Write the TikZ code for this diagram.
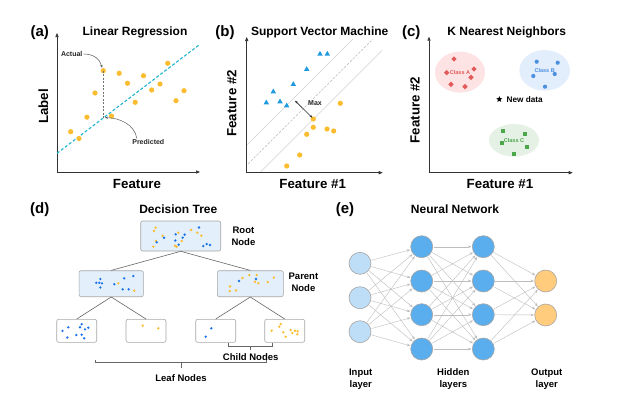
\documentclass[tikz,border=0pt]{standalone}
\usepackage{fontspec}
\setmainfont{Liberation Sans}
\usepackage{tikz}
\usetikzlibrary{arrows.meta,positioning,shapes.geometric,calc}
\usepackage{xcolor}
\definecolor{dotyellow}{HTML}{FBBD2F}
\definecolor{dotblue}{HTML}{1A73E8}
\definecolor{triblue}{HTML}{1E9AE0}
\definecolor{fitcyan}{HTML}{1CB5D0}
\definecolor{classred}{HTML}{E35A5A}
\definecolor{classblue}{HTML}{4A8FE0}
\definecolor{classgreen}{HTML}{4CA64C}
\definecolor{redfill}{HTML}{FDE3E3}
\definecolor{bluefill}{HTML}{E2EEFB}
\definecolor{greenfill}{HTML}{E5F1E4}
\definecolor{boxfill}{HTML}{E3EFFA}
\definecolor{inputfill}{HTML}{BEDDF7}
\definecolor{hiddenfill}{HTML}{5AAEEE}
\definecolor{outputfill}{HTML}{FFCB7D}
\definecolor{edgegray}{HTML}{BDBDBD}
\definecolor{svmgray}{HTML}{B0BEC5}

\begin{document}
\begin{tikzpicture}[x=1pt, y=-1pt,
  panellbl/.style={font=\fontsize{15}{17}\selectfont\bfseries},
  paneltitle/.style={font=\fontsize{12}{14}\selectfont\bfseries},
  axislbl/.style={font=\fontsize{13.3}{15}\selectfont\bfseries},
  axisline/.style={-{Triangle[length=4pt,width=3.2pt]}, line width=0.7pt, color=black!80},
  notelbl/.style={font=\fontsize{7}{8}\selectfont\bfseries, text=black!85, inner sep=1pt},
  callout/.style={-{Stealth[length=3pt]}, line width=0.5pt, color=black!65},
  svmline/.style={line width=0.45pt, color=black!18},
  svmtri/.style={regular polygon, regular polygon sides=3, fill=triblue, minimum size=6.2pt, inner sep=0pt},
  cluster/.style={ellipse, inner sep=0pt, font=\fontsize{5.5}{6}\selectfont\bfseries},
  treebox/.style={rectangle, rounded corners=2pt, draw=black!35, line width=0.6pt, fill=boxfill},
  leafbox/.style={treebox, fill=white, minimum width=40pt, minimum height=23pt},
  treelbl/.style={font=\fontsize{9.5}{11.7}\selectfont\bfseries, align=center},
  branch/.style={line width=0.6pt, color=black!60},
  bracket/.style={line width=0.7pt, color=black!60},
  neuron/.style={circle, draw=black!35, line width=0.6pt, minimum size=22pt, inner sep=0pt},
  synapse/.style={-{Stealth[length=3.5pt,width=2.6pt]}, color=edgegray, line width=0.4pt, shorten <=0.5pt, shorten >=0.5pt},
]
  \useasboundingbox (0,0) rectangle (617,410);
  \fill[white] (0,0) rectangle (617,410);

  \node[panellbl] (labA) at (39.7,32.3) {(a)};
  \node[paneltitle] (titleA) at (135,32.3) {Linear Regression};
  \coordinate (oA) at (57,172);
  \coordinate (yA) at (57,33);
  \coordinate (xA) at (200,172);
  \draw[axisline] (oA) -- (yA);
  \draw[axisline] (oA) -- (xA);
  \node[axislbl, rotate=90] (ylblA) at (43.3,106.3) {Label};
  \node[axislbl] (xlblA) at (137,184) {Feature};
  \draw[fitcyan, line width=1.1pt, dash pattern=on 3pt off 2pt] (57,153.3) -- (199,45);
  \foreach \x/\y in {70.7/131.7, 79/138.5, 86.9/117.2, 95/93, 103.3/70.7, 111.5/116, 119.2/73.3, 127.5/83.3, 135.2/102.3, 143.5/75.7, 151.7/90, 160/84, 167.7/63.3, 176/100.7, 184/90.7}
    \fill[dotyellow] (\x,\y) circle (2.6pt);
  \coordinate (actualPt) at (103.3,70.7);
  \coordinate (predPt) at (103.3,118);
  \draw[black!55, line width=0.6pt, dash pattern=on 2pt off 1.5pt] (actualPt) -- (predPt);
  \node[notelbl] (actualLbl) at (71.7,54) {Actual};
  \node[notelbl] (predLbl) at (148.3,141.7) {Predicted};
  \draw[callout] (actualLbl.east) .. controls +(11,0) and +(-2,-8) .. ($(actualPt)+(-1.2,-2.8)$);
  \draw[callout] ($(predLbl.north)+(-11.5,0.5)$) .. controls +(-2,-14) and +(14,0) .. ($(predPt)+(1.6,-0.3)$);

  \node[panellbl] (labB) at (225,32.3) {(b)};
  \node[paneltitle] (titleB) at (319.7,32.3) {Support Vector Machine};
  \coordinate (oB) at (246.7,172.7);
  \coordinate (yB) at (246.7,37);
  \coordinate (xB) at (382.7,172.7);
  \begin{scope}
    \clip (247.3,39) rectangle (382,172.3);
    \draw[svmline] (200,192) -- (400,-8);
    \draw[svmline, color=svmgray, line width=0.6pt, dash pattern=on 2.5pt off 1.5pt] (200,212) -- (420,-8);
    \draw[svmline] (240,192.5) -- (440,-7.5);
  \end{scope}
  \draw[axisline] (oB) -- (yB);
  \draw[axisline] (oB) -- (xB);
  \node[axislbl, rotate=90] (ylblB) at (231.7,103.3) {Feature \#2};
  \node[axislbl] (xlblB) at (312.7,184) {Feature \#1};
  \foreach \x/\y [count=\i] in {320/54, 327.3/54, 306.7/69.3, 293.3/84.3, 273.3/91.7, 266.3/102.7, 280/101.7, 286.7/105.7}
    \node[svmtri] (tri\i) at (\x,\y) {};
  \foreach \x/\y in {340.3/103.3, 313.3/119, 313.3/127.3, 327/129, 333.7/131, 306.7/134.3, 299.7/155, 286.7/166}
    \fill[dotyellow] (\x,\y) circle (2.6pt);
  \coordinate (maxA) at (295,100.7);
  \coordinate (maxB) at (312.3,117.7);
  \draw[{Stealth[length=3pt]}-{Stealth[length=3pt]}, line width=0.6pt, black!85] (maxA) -- (maxB);
  \node[notelbl] (maxLbl) at (315,102.7) {Max};

  \node[panellbl] (labC) at (411.2,32.3) {(c)};
  \node[paneltitle] (titleC) at (506.7,32.3) {K Nearest Neighbors};
  \coordinate (oC) at (429,172.7);
  \coordinate (yC) at (429,36.7);
  \coordinate (xC) at (572.7,172.7);
  \draw[axisline] (oC) -- (yC);
  \draw[axisline] (oC) -- (xC);
  \node[axislbl, rotate=90] (ylblC) at (415,110) {Feature \#2};
  \node[axislbl] (xlblC) at (500,184) {Feature \#1};
  \node[cluster, fill=redfill, text=classred, minimum width=50pt, minimum height=41pt] (clusterA) at (460,72.2) {Class A};
  \node[cluster, fill=bluefill, text=classblue, minimum width=50.6pt, minimum height=40.6pt] (clusterB) at (544.7,70.4) {Class B};
  \node[cluster, fill=greenfill, text=classgreen, minimum width=50pt, minimum height=32.5pt] (clusterC) at (514,140.3) {Class C};
  \foreach \x/\y [count=\i] in {454/59, 446.7/72.7, 474/69, 471/77.3, 451/84.3, 465/86.7}
    \node[diamond, fill=classred, minimum size=5.6pt, inner sep=0pt] (ptA\i) at (\x,\y) {};
  \foreach \x/\y in {536.7/61.7, 557.7/62.7, 533.3/76, 554.7/74, 545/86.7}
    \fill[classblue] (\x,\y) circle (2.1pt);
  \foreach \x/\y [count=\i] in {503.3/130.7, 525/134, 501.7/143.3, 526.7/147.3, 514/154.3}
    \node[rectangle, fill=classgreen, minimum size=4.2pt, inner sep=0pt] (ptC\i) at (\x,\y) {};
  \node[star, star points=5, star point ratio=2.4, fill=black, minimum size=6.5pt, inner sep=0pt] (newPt) at (499.3,99.3) {};
  \node[font=\fontsize{8.2}{9}\selectfont\bfseries, inner sep=0.5pt, right=4.5pt of newPt] (newLbl) {New data};

  \node[panellbl] (labD) at (39.7,210) {(d)};
  \node[paneltitle] (titleD) at (178.3,209) {Decision Tree};
  \node[treebox, minimum width=80pt, minimum height=30pt] (root) at (180.7,236) {};
  \node[treelbl, right=7pt of root] (rootLbl) {Root\\Node};
  \node[treebox, minimum width=64.3pt, minimum height=26pt] (parL) at (111.2,283.7) {};
  \node[treebox, minimum width=66pt, minimum height=26pt] (parR) at (250.3,283.7) {};
  \node[treelbl, right=1.5pt of parR, yshift=1.4pt] (parLbl) {Parent\\Node};
  \node[leafbox] (leafA) at (76.7,330.8) {};
  \node[leafbox] (leafB) at (146,330.8) {};
  \node[leafbox] (leafC) at (215.7,330.8) {};
  \node[leafbox] (leafD) at (284.7,330.8) {};
  \draw[branch] (root.south) -- (parL.north);
  \draw[branch] (root.south) -- (parR.north);
  \draw[branch] (parL.south) -- (leafA.north);
  \draw[branch] (parL.south) -- (leafB.north);
  \draw[branch] (parR.south) -- (leafC.north);
  \draw[branch] (parR.south) -- (leafD.north);
  \foreach \x/\y in {154/231, 155.7/227.7, 156/241, 153.3/246.7, 162.7/235.7, 178.3/232.7, 181.7/241, 175/245.7, 176.7/246.7, 191/230, 197.3/232.7, 201.3/235.7,
                     118.3/283.3, 134.3/290.7,
                     230/286.5, 229.8/291, 236/290.5, 242.5/278, 249.3/275, 256.7/275, 255/281.7, 258.3/283.3, 267.7/282, 273.8/277.5,
                     142.7/325.7, 158.3/328.3,
                     271.7/330.7, 279.3/326.7, 280.7/324, 283.3/332.3, 285.7/336.7, 290.7/330, 292.3/333, 295/330.7, 297.7/331.3, 297.3/334.3}
    \fill[dotyellow] (\x,\y) circle (1.3pt);
  \foreach \x/\y in {156.7/242.3, 164/237.7, 175.7/234.3, 175.3/240.5, 182.7/237.7, 184.6/234.6, 178.7/244.7, 199/227.5, 203.3/246, 206.7/244, 210/245,
                     96.3/282.8, 100.4/279, 99.3/282.8, 102/283.3, 100.4/287.5, 114.3/284.2, 124.2/278.3, 133.3/276, 122.7/289.3, 128.7/289.3,
                     239/281, 256/279,
                     62.5/330.8, 68.3/327.3, 67.3/337.5, 76.3/335, 80/327.2, 81.7/324.2, 81.7/334.7, 84.2/338.3, 85/329.3, 88.3/327.7,
                     211.3/328.3, 205.7/336.7}
    \fill[dotblue] (\x,\y) circle (1.3pt);
  \draw[bracket] (228.5,343.3) |- (272.5,346.3) -- ++(0,-3);
  \draw[bracket] (250.5,346.3) -- ++(0,4);
  \node[treelbl] (childLbl) at (250.7,356.7) {Child Nodes};
  \draw[bracket] (95,360.3) |- (266.7,362.7) -- ++(0,-2.4);
  \draw[bracket] (181,362.7) -- ++(0,5.6);
  \node[treelbl] (leafLbl) at (181,377.7) {Leaf Nodes};

  \node[panellbl] (labE) at (345,210) {(e)};
  \node[paneltitle] (titleE) at (455,209) {Neural Network};
  \foreach \y [count=\i] in {263.3,297.7,331.7}
    \node[neuron, fill=inputfill] (in\i) at (360,\y) {};
  \foreach \y [count=\i] in {246.7,281,314.7,349}
    \node[neuron, fill=hiddenfill] (ha\i) at (421.7,\y) {};
  \foreach \y [count=\i] in {246.7,281,314.7,349}
    \node[neuron, fill=hiddenfill] (hb\i) at (483.3,\y) {};
  \foreach \y [count=\i] in {281,315}
    \node[neuron, fill=outputfill] (out\i) at (545.7,\y) {};
  \foreach \i in {1,2,3}
    \foreach \j in {1,...,4}
      \draw[synapse] (in\i) -- (ha\j);
  \foreach \i in {1,...,4}
    \foreach \j in {1,...,4}
      \draw[synapse] (ha\i) -- (hb\j);
  \foreach \i in {1,...,4}
    \foreach \j in {1,2}
      \draw[synapse] (hb\i) -- (out\j);
  \node[treelbl] (inLbl) at (360.7,379) {Input\\layer};
  \node[treelbl] (hidLbl) at (453.3,379) {Hidden\\layers};
  \node[treelbl] (outLbl) at (546.7,379) {Output\\layer};
\end{tikzpicture}
\end{document}
